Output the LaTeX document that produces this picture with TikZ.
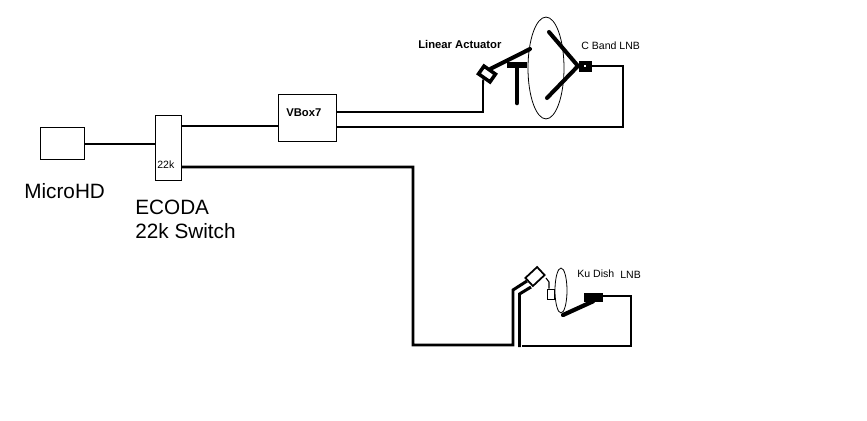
\documentclass[tikz,border=0pt]{standalone}
\usepackage{fontspec}
\setmainfont{Liberation Sans}
\usetikzlibrary{positioning,calc}

\begin{document}
\begin{tikzpicture}[
    x=0.02cm, y=-0.02cm,
    every node/.style={font=\rmfamily},
    unitbox/.style={
        draw=black, fill=white, line width=0.55pt, inner sep=0pt
    },
    bigtext/.style={font=\fontsize{11.8}{14}\selectfont, anchor=west, inner sep=0pt},
    smalltext/.style={font=\fontsize{6}{7}\selectfont, anchor=west, inner sep=0pt},
    boldtext/.style={font=\fontsize{6.4}{7}\selectfont\bfseries, anchor=west, inner sep=0pt},
    wire/.style={line width=1.7pt, line join=miter},
    thinwire/.style={line width=1.1pt},
    hairline/.style={line width=0.6pt},
    dishbar/.style={line width=2.3pt, line cap=round},
    darkblock/.style={draw=black, fill=black, inner sep=0pt},
]
\useasboundingbox (0,0) rectangle (867,420);

% === Units ===
\node[unitbox, minimum width=0.88cm, minimum height=0.64cm] (microhd) at (62,143) {};
\node[unitbox, minimum width=0.52cm, minimum height=1.30cm] (switch) at (168,147.5) {};
\node[unitbox, minimum width=1.16cm, minimum height=0.94cm] (vbox) at (307,117.5) {};

\node[bigtext] (microlabel) at (24,191) {MicroHD};
\node[bigtext] (ecodalabel) at (135,207) {ECODA};
\node[bigtext] (switchlabel) at (135,231) {22k Switch};
\node[smalltext] (twokay) at (157,165) {22k};
\node[boldtext] (vboxlabel) at (286,113) {VBox7};

% === C band dish ===
\node[draw=black, line width=0.45pt, circle, inner sep=0pt, minimum size=0.72cm,
    yscale=2.83] (cdish) at (546,68) {};
\node[draw=black, line width=2pt, fill=white, rotate=-35, inner sep=0pt,
    minimum width=0.28cm, minimum height=0.19cm] (cact) at (487,74) {};
\node[darkblock, minimum width=0.24cm, minimum height=0.20cm] (clnb) at (585,66) {};
\node[fill=white, inner sep=0pt, minimum size=0.05cm] (clnbdot) at (585,66) {};

\coordinate (cfeedtop) at (549,32);
\coordinate (cfeedtip) at (578,66);
\coordinate (cfeedlow) at (547,98);
\draw[dishbar, line join=miter] (cfeedtop) -- (cfeedtip) -- (cfeedlow);
\coordinate (carmend) at (530,49);
\draw[dishbar] (carmend) -- (cact.north);
\draw[line width=3.4pt] (507,65) coordinate (tleft) -- (527,65) coordinate (tright);
\coordinate (ttop) at (517,65);
\coordinate (tfoot) at (517,103);
\draw[line width=2.6pt, line cap=round] (ttop) -- (tfoot);

\node[boldtext] (actlabel) at (418,44) {Linear Actuator};
\node[smalltext] (clabel) at (581,46) {C Band LNB};

% === Ku dish ===
\node[draw=black, line width=0.45pt, circle, inner sep=0pt, minimum size=0.24cm,
    yscale=3.75] (kudish) at (561,290.5) {};
\node[draw=black, line width=1pt, fill=white, rotate=43, inner sep=0pt,
    minimum width=0.32cm, minimum height=0.22cm] (kuact) at (535,276.5) {};
\node[unitbox, minimum width=0.14cm, minimum height=0.20cm] (kufeed) at (550.5,294) {};
\node[darkblock, minimum width=0.36cm, minimum height=0.16cm] (kulnb) at (593,297) {};

\coordinate (kuarm) at (563,315);
\draw[line width=2.4pt, line cap=round] (kuarm) -- (kulnb.south);
\draw[hairline] (546,278) -- (549,282) -- (kufeed.north -| 549,0);

\node[smalltext] (kulabel) at (577,274) {Ku Dish};
\node[smalltext] (lnblabel) at (620,275) {LNB};

% === Wiring ===
\draw[wire] (microhd.east |- 0,144) -- (switch.west |- 0,144);
\draw[wire] (switch.east |- 0,126) -- (vbox.west |- 0,126);
\draw[thinwire] (vbox.east |- 0,112) -- (483,112) -- (483,85) -- (cact.south);
\draw[wire] (vbox.east |- 0,127) -- (623,127) -- (623,66) -- (clnb.east);

\coordinate (kuin) at (513,345);
\draw[wire] (switch.east |- 0,167) -- (413,167) -- (413,345) -- (kuin) -- (513,290) -- (527,281);
\coordinate (kuout) at (519.5,347);
\draw[wire] (kuout) -- (519.5,294) -- (531,287);
\coordinate (kuret) at (522,346);
\draw[wire] (kuret) -- (631,346) -- (631,296) -- (kulnb.east |- 0,296);

\end{tikzpicture}
\end{document}
